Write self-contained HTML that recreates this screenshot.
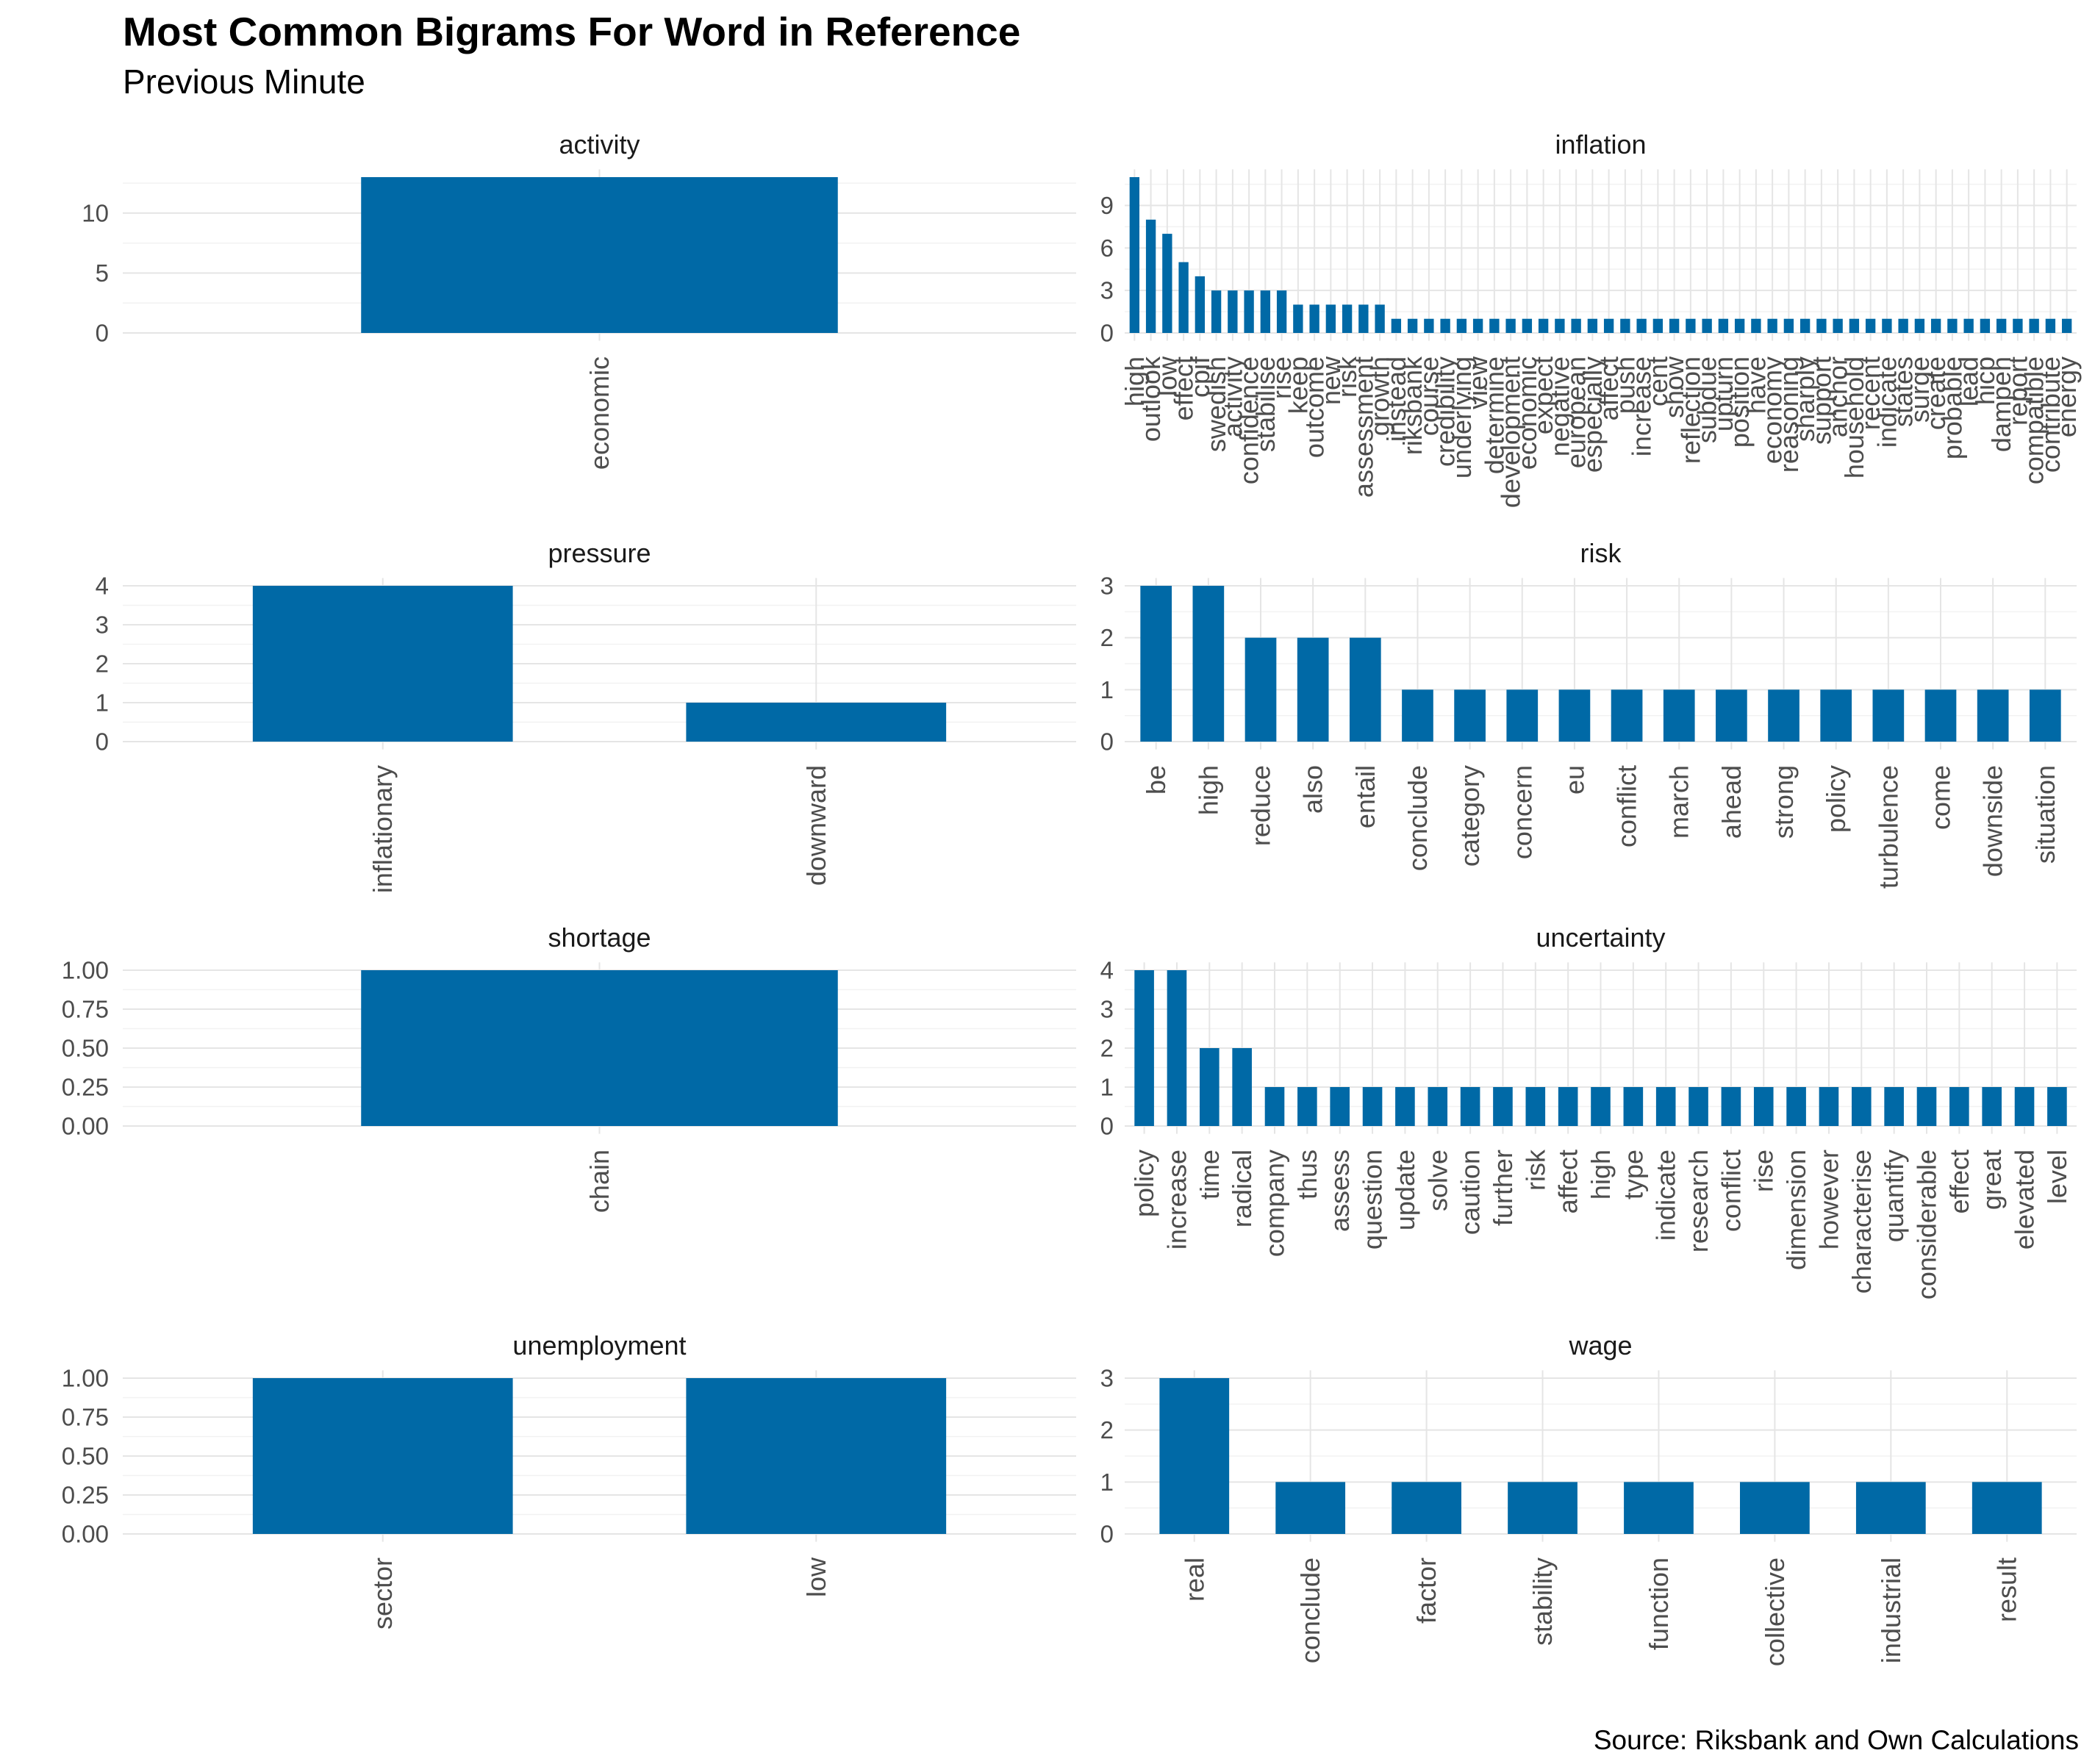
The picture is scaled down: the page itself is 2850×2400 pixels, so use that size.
<!DOCTYPE html>
<html><head><meta charset="utf-8"><style>
html,body{margin:0;padding:0;background:#fff;}
svg{display:block;font-family:"Liberation Sans",Arial,sans-serif;}
</style></head><body>
<svg id="chart" width="2850" height="2400" viewBox="0 0 2850 2400" xmlns="http://www.w3.org/2000/svg">
<text x="167" y="62" font-size="55" font-weight="bold" fill="#000">Most Common Bigrams For Word in Reference</text>
<text x="167" y="127" font-size="46" fill="#000">Previous Minute</text>
<text x="2828" y="2380" font-size="37" text-anchor="end" fill="#000">Source: Riksbank and Own Calculations</text>
</svg>
<script>
const activityCats = ["economic"];
const activityVals = [13];
const activityTicks = [0,5,10];
const inflationCats = ["high","outlook","low","effect","cpif","swedish","activity","confidence","stabilise","rise","keep","outcome","new","risk","assessment","growth","instead","riksbank","course","credibility","underlying","view","determine","development","economic","expect","negative","european","especially","affect","push","increase","cent","show","reflection","subdue","upturn","position","have","economy","reasoning","sharply","support","anchor","household","recent","indicate","states","surge","create","probable","lead","hicp","dampen","report","compatible","contribute","energy"];
const inflationVals = [11,8,7,5,4,3,3,3,3,3,2,2,2,2,2,2,1,1,1,1,1,1,1,1,1,1,1,1,1,1,1,1,1,1,1,1,1,1,1,1,1,1,1,1,1,1,1,1,1,1,1,1,1,1,1,1,1,1];
const inflationTicks = [0,3,6,9];
const pressureCats = ["inflationary","downward"];
const pressureVals = [4,1];
const pressureTicks = [0,1,2,3,4];
const riskCats = ["be","high","reduce","also","entail","conclude","category","concern","eu","conflict","march","ahead","strong","policy","turbulence","come","downside","situation"];
const riskVals = [3,3,2,2,2,1,1,1,1,1,1,1,1,1,1,1,1,1];
const riskTicks = [0,1,2,3];
const shortageCats = ["chain"];
const shortageVals = [1];
const shortageTicks = [0,0.25,0.5,0.75,1];
const uncertaintyCats = ["policy","increase","time","radical","company","thus","assess","question","update","solve","caution","further","risk","affect","high","type","indicate","research","conflict","rise","dimension","however","characterise","quantify","considerable","effect","great","elevated","level"];
const uncertaintyVals = [4,4,2,2,1,1,1,1,1,1,1,1,1,1,1,1,1,1,1,1,1,1,1,1,1,1,1,1,1];
const uncertaintyTicks = [0,1,2,3,4];
const unemploymentCats = ["sector","low"];
const unemploymentVals = [1,1];
const unemploymentTicks = [0,0.25,0.5,0.75,1];
const wageCats = ["real","conclude","factor","stability","function","collective","industrial","result"];
const wageVals = [3,1,1,1,1,1,1,1];
const wageTicks = [0,1,2,3];

const NS = "http://www.w3.org/2000/svg";
const svg = document.getElementById("chart");
function mk(tag, attrs, parent){
  const e = document.createElementNS(NS, tag);
  for (const k in attrs) e.setAttribute(k, attrs[k]);
  (parent||svg).appendChild(e);
  return e;
}
const COLS = [[167,1464],[1530,2825]];
const ZEROS = [453,1009,1532,2087];
const HD = 212;

function panel(name, cats, vals, ticks, col, row, fmt){
  const g = mk("g", {});
  
  
  const [x0,x1] = COLS[col];
  const zero = ZEROS[row];
  const maxV = Math.max(...vals);
  const top = zero - HD*1.05, bot = zero + HD*0.05;
  const y = v => zero - v*HD/maxV;
  const n = cats.length;
  const unit = (x1-x0)/(n+0.2);
  const x = i => x0 + (i+0.6)*unit;
  const step = ticks[1]-ticks[0];
  for (let v = ticks[0]+step/2; y(v) >= top-0.5; v += step){
    const l = mk("line", {x1:x0,x2:x1,y1:y(v),y2:y(v),stroke:"#f2f2f2","stroke-width":1.5}, g);
    
    
  }
  ticks.forEach(v => {
    const l = mk("line", {x1:x0,x2:x1,y1:y(v),y2:y(v),stroke:"#e5e5e5","stroke-width":2}, g);
    
    
    const t = mk("text", {x:col?1515:148,y:y(v),"font-size":33,fill:"#4d4d4d","text-anchor":"end","dominant-baseline":"central"}, g);
    t.textContent = fmt ? v.toFixed(2) : String(v);
    
    
  });
  cats.forEach((c,i) => {
    const l = mk("line", {x1:x(i),x2:x(i),y1:top,y2:bot,stroke:"#e5e5e5","stroke-width":2}, g);
    
    
  });
  cats.forEach((c,i) => {
    const bw = unit*0.6;
    const r = mk("rect", {x:x(i)-bw/2,y:y(vals[i]),width:bw,height:zero-y(vals[i]),fill:"#0069a6"}, g);
    
    
    const t = mk("text", {x:0,y:0,"font-size":36,fill:"#4d4d4d","text-anchor":"end","dominant-baseline":"central",transform:`translate(${x(i)},${zero+32}) rotate(-90)`}, g);
    t.textContent = c;
    
    
  });
  const s = mk("text", {x:(x0+x1)/2,y:zero-244,"font-size":36,fill:"#1a1a1a","text-anchor":"middle"}, g);
  s.textContent = name;
  
  
}
panel("activity", activityCats, activityVals, activityTicks, 0, 0);
panel("inflation", inflationCats, inflationVals, inflationTicks, 1, 0);
panel("pressure", pressureCats, pressureVals, pressureTicks, 0, 1);
panel("risk", riskCats, riskVals, riskTicks, 1, 1);
panel("shortage", shortageCats, shortageVals, shortageTicks, 0, 2, true);
panel("uncertainty", uncertaintyCats, uncertaintyVals, uncertaintyTicks, 1, 2);
panel("unemployment", unemploymentCats, unemploymentVals, unemploymentTicks, 0, 3, true);
panel("wage", wageCats, wageVals, wageTicks, 1, 3);
</script>
</body></html>
